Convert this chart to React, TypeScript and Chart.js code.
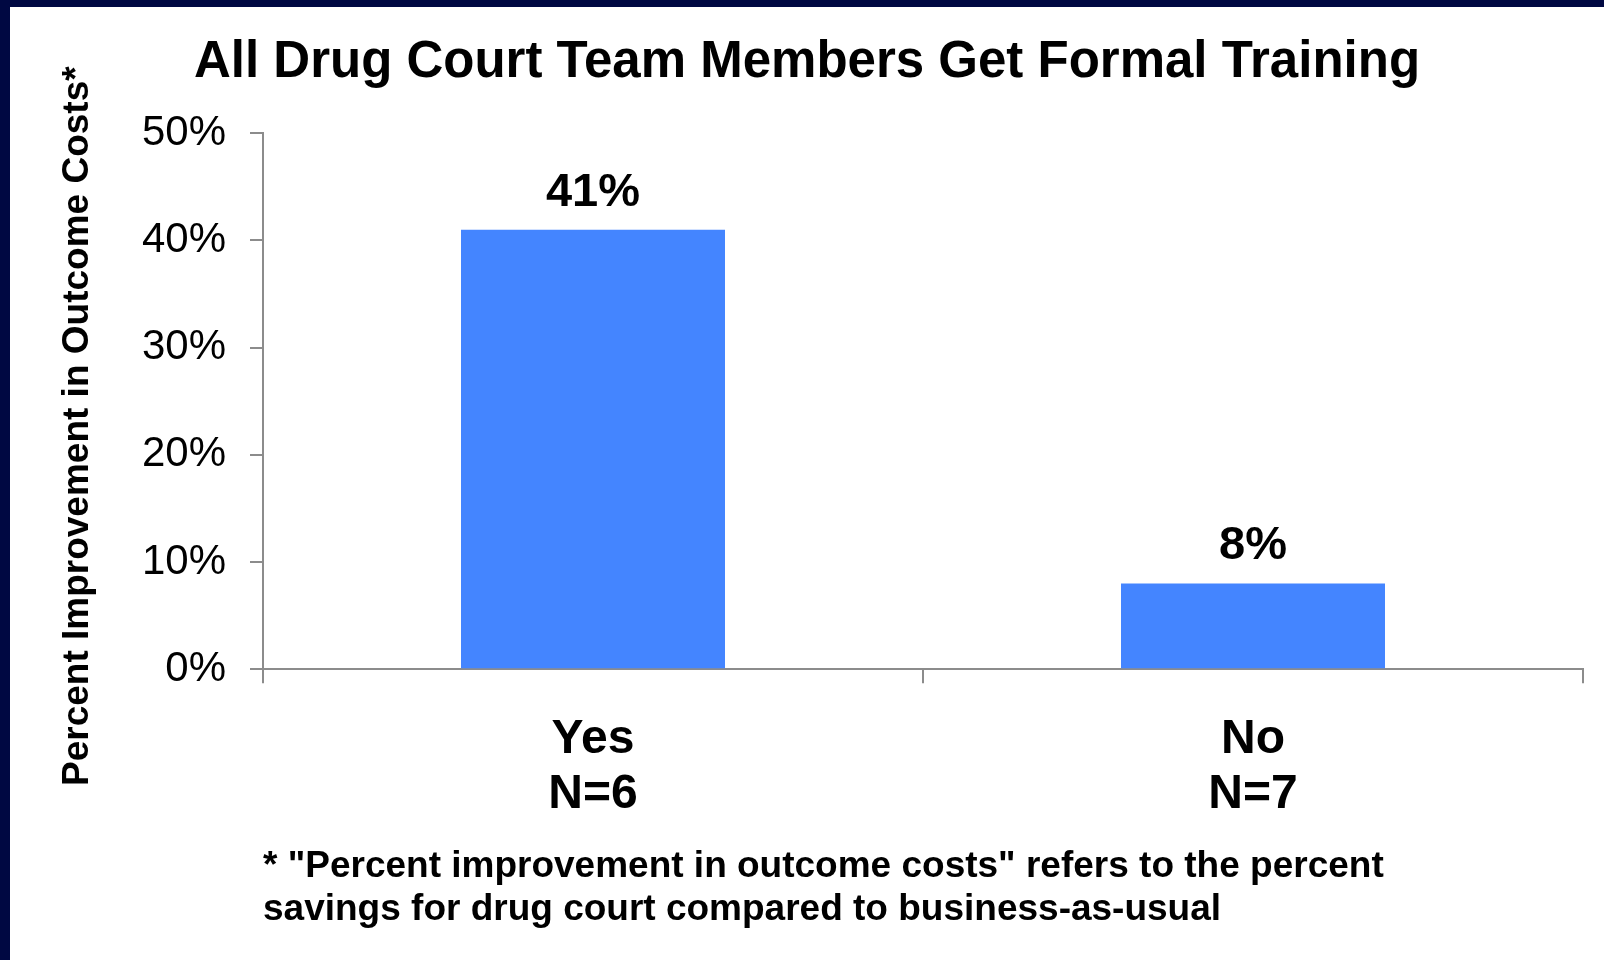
import React, { useEffect, useRef } from "react";
import { Chart, registerables } from "chart.js";

Chart.register(...registerables);

const categories: string[][] = [["Yes", "N=6"], ["No", "N=7"]];
const values: number[] = [41, 8];
const yTickValues: number[] = [0, 10, 20, 30, 40, 50];
const titleText = "All Drug Court Team Members Get Formal Training";
const yAxisTitle = "Percent Improvement in Outcome Costs*";
const footnoteLines: string[] = [
  '* "Percent improvement in outcome costs" refers to the percent',
  "savings for drug court compared to business-as-usual",
];

const FONT = '"Liberation Sans", Arial, Helvetica, sans-serif';
const AXIS_GRAY = "#8C8C8C";
const BAR_BLUE = "#4485FF";
const NAVY = "#000842";

const dataLabelPlugin = {
  id: "dataLabels",
  afterDatasetsDraw(chart: any) {
    const { ctx } = chart;
    const meta = chart.getDatasetMeta(0);
    ctx.save();
    ctx.font = `bold 47px ${FONT}`;
    ctx.fillStyle = "#000";
    ctx.textAlign = "center";
    ctx.textBaseline = "alphabetic";
    meta.data.forEach((bar: any, i: number) => {
      const v = chart.data.datasets[0].data[i];
      ctx.fillText(`${v}%`, bar.x, bar.y - 24);
    });
    ctx.restore();
  },
};

const yTitlePlugin = {
  id: "yTitle",
  afterDraw(chart: any) {
    const { ctx, chartArea } = chart;
    ctx.save();
    ctx.font = `bold 37px ${FONT}`;
    ctx.fillStyle = "#000";
    ctx.textAlign = "center";
    ctx.textBaseline = "alphabetic";
    ctx.translate(chartArea.left - 175, (chartArea.top + chartArea.bottom) / 2 + 25);
    ctx.rotate(-Math.PI / 2);
    ctx.fillText(yAxisTitle, 0, 0);
    ctx.restore();
  },
};

export default function App() {
  const canvasRef = useRef<HTMLCanvasElement | null>(null);

  useEffect(() => {
    if (!canvasRef.current) return;
    const chart = new Chart(canvasRef.current, {
      type: "bar",
      data: {
        labels: categories,
        datasets: [
          {
            data: values,
            backgroundColor: BAR_BLUE,
            borderWidth: 0,
            categoryPercentage: 0.8,
            barPercentage: 0.5,
          },
        ],
      },
      options: {
        responsive: false,
        animation: false,
        devicePixelRatio: 1,
        layout: { padding: { left: 21, right: 21, top: 0, bottom: 0 } },
        plugins: {
          legend: { display: false },
          tooltip: { enabled: false },
          title: {
            display: true,
            text: titleText,
            color: "#000",
            font: { family: FONT, size: 51, weight: "bold", lineHeight: 1.2 },
            padding: { top: 32, bottom: 40 },
          },
          subtitle: {
            display: true,
            position: "bottom",
            align: "start",
            fullSize: false,
            text: footnoteLines,
            color: "#000",
            font: { family: FONT, size: 37, weight: "bold", lineHeight: 1.165 },
            padding: { top: 22.5, bottom: 28.7 },
          },
        },
        scales: {
          x: {
            offset: true,
            afterFit(scale: any) {
              scale.height = 153.4;
            },
            grid: {
              display: true,
              offset: true,
              drawOnChartArea: false,
              drawTicks: true,
              tickLength: 14,
              color: AXIS_GRAY,
              lineWidth: 2,
            },
            border: { display: true, color: AXIS_GRAY, width: 2 },
            ticks: {
              color: "#000",
              padding: 29,
              maxRotation: 0,
              font: { family: FONT, size: 48, weight: "bold", lineHeight: 1.15 },
            },
          },
          y: {
            min: 0,
            max: 50,
            afterBuildTicks(scale: any) {
              scale.ticks = yTickValues.map((v) => ({ value: v }));
            },
            afterFit(scale: any) {
              scale.width = 232;
            },
            grid: {
              display: true,
              drawOnChartArea: false,
              drawTicks: true,
              tickLength: 13,
              color: AXIS_GRAY,
              lineWidth: 2,
            },
            border: { display: true, color: AXIS_GRAY, width: 2 },
            ticks: {
              color: "#000",
              padding: 24,
              font: { family: FONT, size: 42, weight: "normal" },
              callback: (v: any) => `${v}%`,
            },
          },
        },
      },
      plugins: [dataLabelPlugin, yTitlePlugin],
    } as any);
    return () => chart.destroy();
  }, []);

  return (
    <div
      style={{
        position: "absolute",
        left: 0,
        top: 0,
        width: 1604,
        height: 960,
        background: "#fff",
        overflow: "hidden",
      }}
    >
      <canvas
        ref={canvasRef}
        width={1594}
        height={960}
        style={{ position: "absolute", left: 10, top: 0, width: 1594, height: 960 }}
      />
      <div style={{ position: "absolute", left: 0, top: 0, width: 1604, height: 7, background: NAVY }} />
      <div style={{ position: "absolute", left: 0, top: 0, width: 10, height: 960, background: NAVY }} />
    </div>
  );
}
